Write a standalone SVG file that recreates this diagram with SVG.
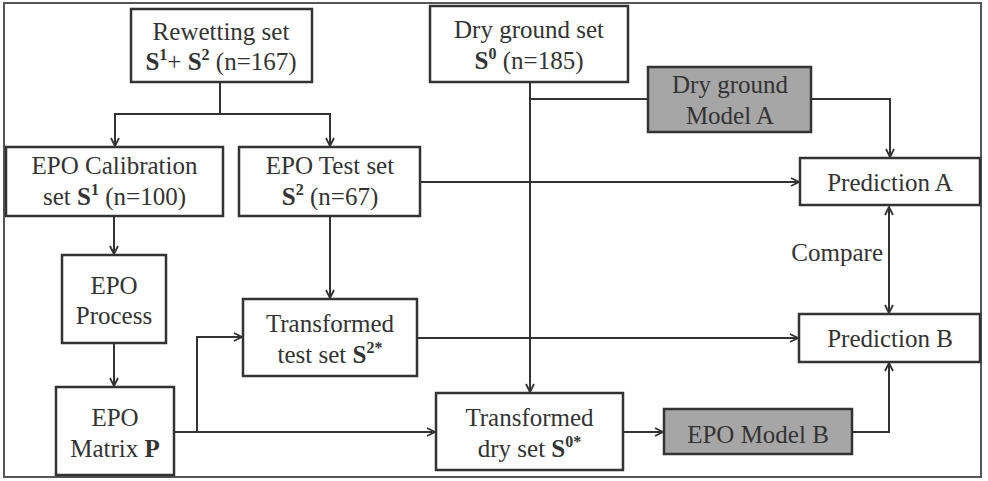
<svg xmlns="http://www.w3.org/2000/svg" width="988" height="481" viewBox="0 0 988 481">
<style>
.box{fill:#ffffff;stroke:#333333;stroke-width:2.5}
.gray{fill:#a6a6a6;stroke:#333333;stroke-width:2.5}
.frame{fill:#ffffff;stroke:#555555;stroke-width:2}
.t{font-family:"Liberation Serif","Times New Roman",serif;font-size:25px;fill:#333333;text-anchor:middle}
.b{font-weight:bold}
.sup{font-size:16px;font-weight:bold}
.con{fill:none;stroke:#333333;stroke-width:2}
</style>
<defs>
<marker id="arr" viewBox="0 0 10 10" refX="9" refY="5" markerWidth="10" markerHeight="10" markerUnits="userSpaceOnUse" orient="auto-start-reverse">
<path d="M1,1 L9,5 L1,9" fill="none" stroke="#333333" stroke-width="1.8"/>
</marker>
</defs>
<rect class="frame" x="4" y="3" width="977" height="474"/>
<g id="connectors">
<path class="con" d="M220,82 V114 H115 V146" marker-end="url(#arr)"/>
<path class="con" d="M220,114 H330 V146" marker-end="url(#arr)"/>
<path class="con" d="M114,216 V254" marker-end="url(#arr)"/>
<path class="con" d="M114,343 V386" marker-end="url(#arr)"/>
<path class="con" d="M330,216 V298" marker-end="url(#arr)"/>
<path class="con" d="M420,182 H799" marker-end="url(#arr)"/>
<path class="con" d="M530,82 V392" marker-end="url(#arr)"/>
<path class="con" d="M530,99 H648"/>
<path class="con" d="M811,99 H890 V157" marker-end="url(#arr)"/>
<path class="con" d="M174,432 H435" marker-end="url(#arr)"/>
<path class="con" d="M197,432 V337 H242" marker-end="url(#arr)"/>
<path class="con" d="M417,338 H798" marker-end="url(#arr)"/>
<path class="con" d="M623,432 H663" marker-end="url(#arr)"/>
<path class="con" d="M852,432 H889 V363" marker-end="url(#arr)"/>
<path class="con" d="M889,207 V313" marker-start="url(#arr)" marker-end="url(#arr)"/>
<text class="t" x="883" y="261" style="text-anchor:end">Compare</text>
</g>
<g id="rewetting">
<rect class="box" x="131" y="9" width="181" height="73"/>
<text class="t" x="221" y="40">Rewetting set</text>
<text class="t" x="221" y="70"><tspan class="b">S</tspan><tspan class="sup" dy="-10">1</tspan><tspan dy="10">+ </tspan><tspan class="b">S</tspan><tspan class="sup" dy="-10">2</tspan><tspan dy="10"> (n=167)</tspan></text>
</g>
<g id="dryground">
<rect class="box" x="430" y="6" width="198" height="76"/>
<text class="t" x="529" y="38">Dry ground set</text>
<text class="t" x="529" y="69"><tspan class="b">S</tspan><tspan class="sup" dy="-10">0</tspan><tspan dy="10"> (n=185)</tspan></text>
</g>
<g id="modelA">
<rect class="gray" x="648" y="67" width="163" height="65"/>
<text class="t" x="730" y="93">Dry ground</text>
<text class="t" x="730" y="124">Model A</text>
</g>
<g id="calibration">
<rect class="box" x="6" y="147" width="217" height="69"/>
<text class="t" x="114.5" y="174">EPO Calibration</text>
<text class="t" x="114.5" y="205">set <tspan class="b">S</tspan><tspan class="sup" dy="-10">1</tspan><tspan dy="10"> (n=100)</tspan></text>
</g>
<g id="testset">
<rect class="box" x="239" y="147" width="181" height="69"/>
<text class="t" x="330" y="174">EPO Test set</text>
<text class="t" x="330" y="205"><tspan class="b">S</tspan><tspan class="sup" dy="-10">2</tspan><tspan dy="10"> (n=67)</tspan></text>
</g>
<g id="predA">
<rect class="box" x="800" y="158" width="180" height="47"/>
<text class="t" x="890" y="191">Prediction A</text>
</g>
<g id="process">
<rect class="box" x="62" y="255" width="104" height="88"/>
<text class="t" x="114" y="294">EPO</text>
<text class="t" x="114" y="324">Process</text>
</g>
<g id="transtest">
<rect class="box" x="243" y="299" width="174" height="77"/>
<text class="t" x="330" y="332">Transformed</text>
<text class="t" x="330" y="363">test set <tspan class="b">S</tspan><tspan class="sup" dy="-10">2*</tspan></text>
</g>
<g id="predB">
<rect class="box" x="799" y="314" width="181" height="48"/>
<text class="t" x="890" y="347">Prediction B</text>
</g>
<g id="matrix">
<rect class="box" x="56" y="387" width="118" height="88"/>
<text class="t" x="115" y="426">EPO</text>
<text class="t" x="115" y="457">Matrix <tspan class="b">P</tspan></text>
</g>
<g id="transdry">
<rect class="box" x="436" y="393" width="187" height="77"/>
<text class="t" x="529.5" y="426">Transformed</text>
<text class="t" x="529.5" y="457">dry set <tspan class="b">S</tspan><tspan class="sup" dy="-10">0*</tspan></text>
</g>
<g id="modelB">
<rect class="gray" x="664" y="409" width="188" height="45"/>
<text class="t" x="758" y="443">EPO Model B</text>
</g>
</svg>
